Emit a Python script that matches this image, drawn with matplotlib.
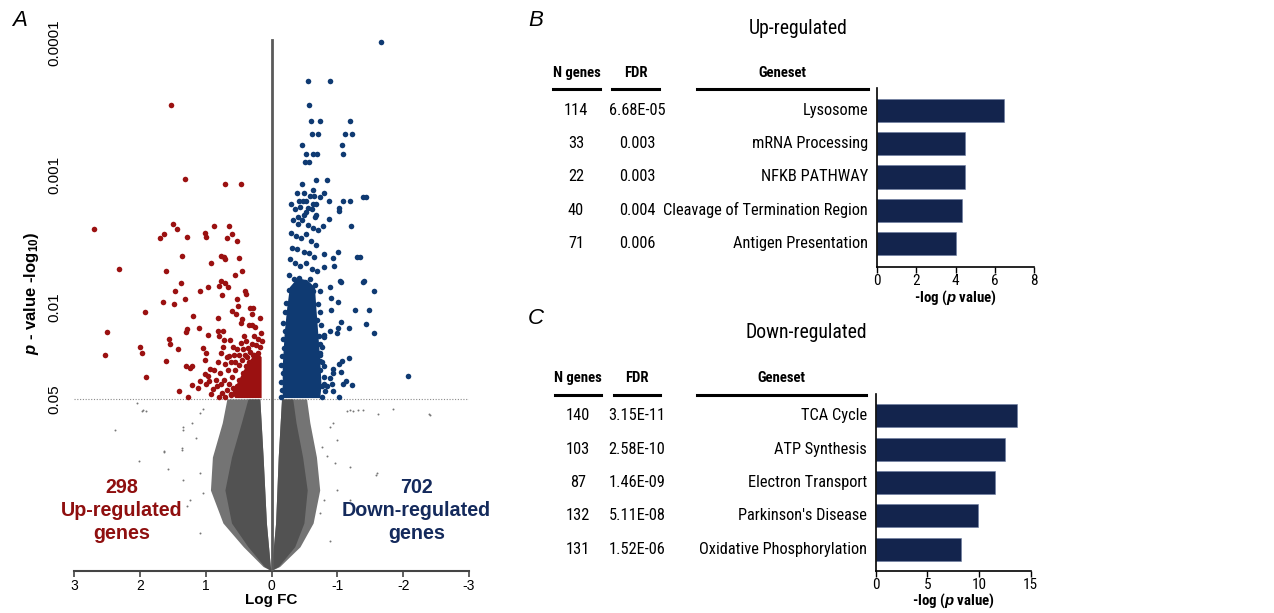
import matplotlib
matplotlib.use("Agg")
import matplotlib.pyplot as plt
from matplotlib.lines import Line2D
from matplotlib.transforms import blended_transform_factory
from matplotlib import font_manager

# ---------------- data ----------------
red_x = [1.53,1.32,0.71,0.46,2.69,1.50,1.44,1.63,1.69,1.29,1.01,0.99,0.87,0.65,0.60,0.68,0.52,
         1.36,2.32,1.60,0.92,0.77,0.72,0.71,0.50,0.45,0.55,1.38,1.47,1.08,0.97,0.76,0.71,0.66,0.79,0.75,
         0.41,0.39,1.65,1.48,1.32,0.53,1.92,1.19,0.81,0.60,0.54,0.51,0.33,0.28,0.30,0.45,0.46,0.29,2.50,
         1.28,1.30,1.10,0.96,0.81,0.74,0.80,0.72,1.56,1.54,2.00,1.96,2.53,1.42,1.04,1.00,1.01,1.61,1.30,
         1.24,1.21,1.90,1.41,1.27,1.21,1.11,1.08,1.01,0.94,0.95,
         0.16,0.20,0.26,0.18,0.24,0.30,0.36,0.40,0.45,0.50,0.55,0.60,0.64,0.68,0.62,0.70,0.75,0.80,0.72,
         0.66,0.61,0.57,0.52,0.47,0.42,0.33,0.28,0.37,0.85,0.78,0.70,0.64,0.58,0.89,0.83,0.76,0.92,1.00,
         0.96,0.88,0.82,0.76,0.68,0.74,0.63,0.25,0.34,0.18,0.22,0.15,0.44,0.49,0.55,0.38,
         0.34,0.39,0.44,0.49,0.53,0.56,0.27,0.20,0.59,0.61]
red_y = [3.53,2.97,2.93,2.93,2.59,2.63,2.59,2.55,2.52,2.53,2.56,2.53,2.61,2.61,2.55,2.52,2.50,
         2.39,2.29,2.27,2.33,2.39,2.38,2.36,2.37,2.27,2.24,2.18,2.12,2.12,2.15,2.20,2.18,2.15,2.16,2.09,
         2.12,2.10,2.04,2.02,2.06,2.06,1.96,1.93,1.92,1.97,1.95,2.01,1.99,1.99,1.95,1.91,1.88,1.86,1.81,
         1.83,1.81,1.84,1.79,1.82,1.82,1.78,1.75,1.76,1.72,1.70,1.65,1.64,1.68,1.69,1.65,1.60,1.59,1.55,
         1.54,1.55,1.47,1.36,1.32,1.41,1.39,1.44,1.49,1.53,1.44,
         1.80,1.76,1.78,1.70,1.71,1.72,1.69,1.64,1.60,1.56,1.52,1.47,1.42,1.37,1.33,1.32,1.35,1.32,1.45,
         1.52,1.58,1.64,1.68,1.73,1.78,1.66,1.64,1.62,1.45,1.50,1.57,1.63,1.70,1.38,1.40,1.42,1.34,1.42,
         1.48,1.52,1.58,1.65,1.62,1.70,1.75,1.85,1.86,1.92,1.64,1.74,1.68,1.64,1.58,1.74,
         1.58,1.55,1.50,1.45,1.40,1.36,1.64,1.65,1.39,1.34]
red_core_x = [0.15,0.15,0.22,0.32,0.42,0.52,0.58,0.55]
red_core_y = [1.31,1.62,1.66,1.60,1.52,1.42,1.33,1.31]

blue_x = [-1.66,-0.55,-0.89,-0.57,-0.60,-0.73,-1.19,-0.62,-0.70,-1.11,-1.22,-0.47,-1.07,-0.52,-0.63,
          -0.69,-1.09,-0.51,-0.57,-0.67,-0.84,-0.47,-0.63,-0.39,-0.50,-0.79,-0.42,-0.48,-0.53,-0.58,-0.65,
          -0.73,-0.63,-0.68,-0.88,-1.09,-1.19,-1.39,-1.43,-1.03,-0.56,-0.50,-0.68,-0.40,-0.87,
          -1.02,-1.20,-0.78,-1.01,-0.93,-0.80,-1.30,-1.34,-0.95,-0.80,-1.04,-1.05,-1.39,-1.41,-0.89,-1.55,
          -0.73,-0.91,-1.01,-0.90,-1.27,-1.48,-1.05,-1.43,-1.17,-1.01,-0.99,-0.89,-1.56,-0.79,-0.80,-0.74,
          -1.17,-1.07,-1.03,-0.94,-1.05,-2.08,-1.13,-1.22,-1.09,-0.94,-0.89,-0.92,-0.79,-0.84,-0.94,-1.03,
          -0.74,-0.79,-0.74,
          -0.30,-0.36,-0.44,-0.52,-0.61,-0.66,-0.33,-0.40,-0.47,-0.56,-0.63,-0.70,-0.29,-0.37,-0.45,-0.53,
          -0.60,-0.68,-0.31,-0.39,-0.49,-0.57,-0.64,-0.28,-0.35,-0.44,-0.53,-0.62,-0.69,-0.27,-0.34,-0.42,
          -0.51,-0.59,-0.66,-0.26,-0.33,-0.47,-0.56,-0.63,
          -0.22,-0.20,-0.18,-0.21,-0.17,-0.19,-0.16,-0.15,-0.17,-0.14,-0.16,-0.15,
          -0.70,-0.73,-0.69,-0.75,-0.72,-0.76,-0.73,-0.77,-0.74,-0.79,-0.76,-0.81,-0.77]
blue_y = [4.01,3.71,3.71,3.53,3.41,3.41,3.41,3.31,3.31,3.31,3.31,3.23,3.23,3.16,3.16,
          3.16,3.16,3.10,3.10,2.96,2.96,2.93,2.89,2.86,2.86,2.86,2.80,2.80,2.80,2.84,2.84,
          2.83,2.78,2.78,2.80,2.80,2.80,2.83,2.83,2.75,2.75,2.70,2.70,2.68,2.67,
          2.73,2.61,2.61,2.42,2.37,2.40,2.38,2.38,2.31,2.30,2.20,2.19,2.19,2.20,2.15,2.12,
          2.12,2.07,2.04,1.98,1.98,1.98,1.89,1.87,1.84,1.84,1.80,1.82,1.80,1.79,1.77,1.72,
          1.61,1.59,1.57,1.53,1.51,1.48,1.44,1.41,1.42,1.50,1.46,1.42,1.42,1.40,1.36,1.32,
          1.59,1.55,1.65,
          2.78,2.74,2.76,2.72,2.74,2.68,2.66,2.63,2.66,2.62,2.60,2.58,2.56,2.54,2.52,2.55,
          2.50,2.47,2.45,2.44,2.42,2.41,2.38,2.36,2.33,2.31,2.33,2.29,2.27,2.24,2.21,2.22,
          2.19,2.21,2.17,2.13,2.10,2.11,2.08,2.12,
          2.03,1.96,1.88,1.82,1.76,1.69,1.63,1.56,1.50,1.43,1.37,1.32,
          2.02,1.96,1.90,1.86,1.78,1.70,1.64,1.58,1.52,1.47,1.40,1.36,1.32]
blue_core_x = [-0.17,-0.17,-0.20,-0.24,-0.28,-0.40,-0.55,-0.66,-0.68,-0.71,-0.74,-0.76,-0.74]
blue_core_y = [1.31,1.55,1.80,2.00,2.15,2.22,2.20,2.15,2.00,1.80,1.60,1.40,1.31]

gray_left_x = [0.00,0.12,0.42,0.73,0.92,0.89,0.74,0.67,0.17,0.12,0.07,0.01]
gray_left_y = [0.00,0.03,0.18,0.36,0.61,0.86,1.12,1.30,1.30,0.86,0.36,0.03]
gray_right_x = [0.00,-0.13,-0.44,-0.64,-0.74,-0.69,-0.59,-0.54,-0.16,-0.11,-0.07,-0.01]
gray_right_y = [0.00,0.03,0.18,0.36,0.61,0.86,1.12,1.30,1.30,0.86,0.36,0.03]
dense_left_x = [0.00,0.10,0.35,0.60,0.70,0.60,0.45,0.35,0.17,0.12,0.07,0.01]
dense_left_y = [0.00,0.03,0.18,0.36,0.61,0.86,1.12,1.30,1.30,0.86,0.36,0.03]
dense_right_x = [0.00,-0.11,-0.36,-0.50,-0.55,-0.48,-0.38,-0.33,-0.16,-0.11,-0.07,-0.01]
dense_right_y = [0.00,0.03,0.18,0.36,0.61,0.86,1.12,1.30,1.30,0.86,0.36,0.03]
gray_pts_x = [1.04,1.34,1.21,1.64,1.36,1.09,1.34,1.57,1.24,1.04,1.09,1.29,
              -1.19,-1.39,-1.62,-0.89,-0.99,-0.84,-1.19,-1.60,-0.99,-0.79,-1.19,-0.89,
              2.37,2.02,1.91,1.96,1.63,1.35,1.36,-1.59,-2.39,-1.14,-1.24,-1.32,-0.94,-0.76,
              -0.96,-0.74,1.09,1.14,2.05,1.95,-2.41,-1.85]
gray_pts_y = [1.23,1.09,1.12,0.90,0.92,0.74,0.69,0.77,0.54,0.59,0.29,0.49,
              1.22,1.22,1.19,1.09,0.99,0.87,0.79,0.74,0.61,0.54,0.54,0.23,
              1.07,0.83,1.21,1.21,0.91,1.07,0.93,0.73,1.19,1.21,1.21,1.22,1.12,0.94,
              0.82,0.44,1.20,1.01,1.27,1.22,1.18,1.23]

y_ticks = [1.301, 2, 3, 4]
y_tick_labels = ["0.05", "0.01", "0.001", "0.0001"]
x_ticks = [3, 2, 1, 0, -1, -2, -3]

up_genesets = ["Lysosome", "mRNA Processing", "NFKB PATHWAY",
               "Cleavage of Termination Region", "Antigen Presentation"]
up_ngenes = [114, 33, 22, 40, 71]
up_fdr = ["6.68E-05", "0.003", "0.003", "0.004", "0.006"]
up_logp = [6.48, 4.49, 4.49, 4.32, 4.0]

down_genesets = ["TCA Cycle", "ATP Synthesis", "Electron Transport",
                 "Parkinson's Disease", "Oxidative Phosphorylation"]
down_ngenes = [140, 103, 87, 132, 131]
down_fdr = ["3.15E-11", "2.58E-10", "1.46E-09", "5.11E-08", "1.52E-06"]
down_logp = [13.7, 12.48, 11.55, 9.87, 8.29]

# ---------------- style ----------------
fl = font_manager.fontManager.ttflist
names = {f.name for f in fl}
NARROW = "Liberation Sans"
STRETCH = "normal"
for cand in ["Liberation Sans Narrow", "Roboto Condensed", "Open Sans Condensed",
             "Arial Narrow", "Nimbus Sans Narrow"]:
    if cand in names:
        NARROW = cand
        break
else:
    if any(f.name == "DejaVu Sans" and f.stretch == "condensed" for f in fl):
        NARROW, STRETCH = "DejaVu Sans", "condensed"

plt.rcParams['font.family'] = ['Liberation Sans', 'DejaVu Sans']
plt.rcParams['mathtext.fontset'] = 'custom'
plt.rcParams['mathtext.rm'] = 'Liberation Sans'
plt.rcParams['mathtext.it'] = 'Liberation Sans:italic:bold'
plt.rcParams['mathtext.bf'] = 'Liberation Sans:bold'

RED = '#9b1111'
BLUE = '#0f3a72'
RED_T = '#8f0f0f'
NAVY_T = '#142a5c'
BAR = '#13244d'

W, H = 1274, 613
fig = plt.figure(figsize=(W / 100, H / 100), dpi=100)
renderer = fig.canvas.get_renderer()


def fx(px):
    return px / W


def fy(py):
    return 1 - py / H


def fit(s, target, weight='normal', base=12.0):
    t = fig.text(0, 0, s, fontsize=base, family=NARROW, fontstretch=STRETCH, fontweight=weight)
    w = t.get_window_extent(renderer).width
    t.remove()
    return base * target / w


ROW_FS = min(13.0, fit("Cleavage of Termination Region", 206))
HEAD_FS = min(11.5, fit("N genes", 48, 'bold'))
TITLE_FS = min(17.0, fit("Down-regulated", 122))
TICK_FS = min(11.0, ROW_FS * 0.97)
XL_FS = min(13.0, fit("-log (p value)", 80, 'bold'))
NF = dict(family=NARROW, fontstretch=STRETCH)

# ---------------- Panel A: volcano ----------------
ax = fig.add_axes([fx(74), fy(571), (469 - 74) / W, (571 - 16.6) / H])
ax.set_xlim(3, -3)
ax.set_ylim(0, 4.2)
ax.fill(gray_left_x, gray_left_y, color='#747474', lw=0, zorder=1)
ax.fill(gray_right_x, gray_right_y, color='#747474', lw=0, zorder=1)
ax.fill(dense_left_x, dense_left_y, color='#525252', lw=0, zorder=2)
ax.fill(dense_right_x, dense_right_y, color='#525252', lw=0, zorder=2)
ax.scatter(gray_pts_x, gray_pts_y, s=2, color='#777777', lw=0, zorder=2)
ax.fill(red_core_x, red_core_y, color=RED, lw=0, zorder=3)
ax.fill(blue_core_x, blue_core_y, color=BLUE, lw=0, zorder=3)
ax.scatter(red_x, red_y, s=16, color=RED, lw=0, zorder=4)
ax.scatter(blue_x, blue_y, s=16, color=BLUE, lw=0, zorder=4)
ax.plot([0, 0], [0, 4.02], color='#5a5a5a', lw=2, zorder=5)
ax.axhline(1.301, color='#8a8a8a', lw=0.8, ls=(0, (1, 1.5)), zorder=0)

for s in ['top', 'right', 'left']:
    ax.spines[s].set_visible(False)
ax.spines['bottom'].set_color('#444444')
ax.spines['bottom'].set_linewidth(1.5)
ax.set_xticks(x_ticks)
ax.set_xticklabels([str(t) for t in x_ticks], fontsize=10)
ax.tick_params(axis='x', length=4, width=1.2, color='#444444', pad=2)
ax.set_yticks(y_ticks)
ax.set_yticklabels(y_tick_labels, rotation=90, va='center', fontsize=11)
ax.tick_params(axis='y', length=0, pad=9)
ax.set_xlabel("Log FC", fontsize=11, fontweight='bold', labelpad=0)
ax.set_ylabel(r"$\mathit{p}$ - value -log$_{\mathbf{10}}$)", fontsize=12,
              fontweight='bold', labelpad=5)

ax.text(2.27, 0.46, "298\nUp-regulated\ngenes", color=RED_T, fontsize=14.2,
        fontweight='bold', ha='center', va='center', linespacing=1.25)
ax.text(-2.2, 0.46, "702\nDown-regulated\ngenes", color=NAVY_T, fontsize=14.2,
        fontweight='bold', ha='center', va='center', linespacing=1.25)

fig.text(fx(12), fy(20), "A", fontsize=16, style='italic', ha='left', va='center')
fig.text(fx(528), fy(20), "B", fontsize=16, style='italic', ha='left', va='center')
fig.text(fx(528), fy(318), "C", fontsize=16, style='italic', ha='left', va='center')


# ---------------- Panels B / C ----------------
def enrichment(rect, xmax, xticks, names_, ngenes, fdr, logp, title, title_y,
               head_y, line_y, cols, line_spans, ylim):
    axb = fig.add_axes(rect)
    ypos = list(range(len(names_)))
    axb.barh(ypos, logp, height=0.69, color=BAR, edgecolor='#6a7aa0', lw=0.4)
    axb.set_xlim(0, xmax)
    axb.set_ylim(*ylim)
    axb.set_yticks([])
    axb.set_xticks(xticks)
    axb.set_xticklabels([str(t) for t in xticks], fontsize=TICK_FS, **NF)
    axb.tick_params(axis='x', length=4, width=1, pad=1)
    for s in ['top', 'right']:
        axb.spines[s].set_visible(False)
    for s in ['left', 'bottom']:
        axb.spines[s].set_linewidth(1.2)
    axb.set_xlabel(r"-log ($\mathit{p}$ value)", fontsize=XL_FS, fontweight='bold',
                   labelpad=0, **NF)
    trans = blended_transform_factory(fig.transFigure, axb.transData)
    xn, xf, xg = cols
    for i in ypos:
        fig.text(fx(xn), i, str(ngenes[i]), transform=trans, ha='center', va='center',
                 fontsize=ROW_FS, **NF)
        fig.text(fx(xf), i, fdr[i], transform=trans, ha='center', va='center',
                 fontsize=ROW_FS, **NF)
        fig.text(fx(xg), i, names_[i], transform=trans, ha='right', va='center',
                 fontsize=ROW_FS, **NF)
    fig.text(fx(title[1]), fy(title_y), title[0], ha='center', va='center',
             fontsize=TITLE_FS, **NF)
    heads = ["N genes", "FDR", "Geneset"]
    for h, (x0, x1) in zip(heads, line_spans):
        fig.text(fx((x0 + x1) / 2), fy(head_y), h, ha='center', va='center',
                 fontsize=HEAD_FS, fontweight='bold', **NF)
        fig.add_artist(Line2D([fx(x0), fx(x1)], [fy(line_y), fy(line_y)],
                              transform=fig.transFigure, color='black', lw=2.2))
    return axb


enrichment([fx(877), fy(267), (1034 - 877) / W, (267 - 88) / H], 8, [0, 2, 4, 6, 8],
           up_genesets, up_ngenes, up_fdr, up_logp, ("Up-regulated", 798), 28,
           73, 89, (576, 637, 868), [(553, 600), (612, 659), (697, 868)], (4.69, -0.66))

enrichment([fx(875.7), fy(570.7), (1030.7 - 875.7) / W, (570.7 - 394) / H], 15, [0, 5, 10, 15],
           down_genesets, down_ngenes, down_fdr, down_logp, ("Down-regulated", 806), 333,
           378, 395, (578, 637, 867), [(555, 601), (614, 660), (697, 866)], (4.65, -0.66))

fig.savefig("out.png", dpi=100)
